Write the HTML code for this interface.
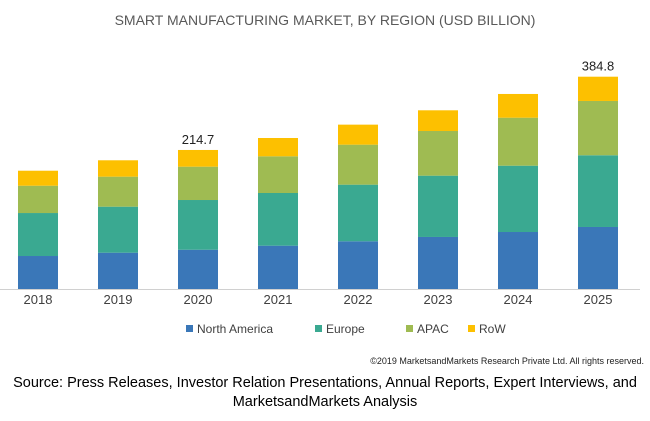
<!DOCTYPE html>
<html><head><meta charset="utf-8"><style>
body{margin:0;width:650px;height:421px;background:#fff;font-family:"Liberation Sans",sans-serif;overflow:hidden;position:relative}
.t{position:absolute;white-space:nowrap}
</style></head><body>
<div class="t" style="left:0;width:650px;text-align:center;top:12px;font-size:14px;color:#595959">SMART MANUFACTURING MARKET, BY REGION (USD BILLION)</div>
<svg id="chart" width="650" height="345" style="position:absolute;left:0;top:0"></svg>
<div class="t" style="right:6px;top:356px;font-size:9px;color:#222">©2019 MarketsandMarkets Research Private Ltd. All rights reserved.</div>
<div class="t" style="left:-10px;width:670px;text-align:center;top:374px;font-size:14.5px;line-height:19px;color:#000">Source: Press Releases, Investor Relation Presentations, Annual Reports, Expert Interviews, and<br>MarketsandMarkets Analysis</div>
<script>
const years=["2018","2019","2020","2021","2022","2023","2024","2025"];
const northAmerica=[59.8,65.8,71.2,78.5,86.5,94.3,103.3,112.4];
const europe=[77.9,83.4,90.1,95.5,102.6,111.1,120.2,130.0];
const apac=[49.5,54.4,60.4,66.5,72.5,81.0,87.0,98.4];
const row=[27.2,29.7,30.3,33.2,36.3,37.5,43.0,44.0];
const totalLabels=["","","214.7","","","","","384.8"];
const seriesNames=["North America","Europe","APAC","RoW"];
const colors=["#3a77b8","#3aa991","#9fbb52","#fdc000"];
const series=[northAmerica,europe,apac,row];
const svg=document.getElementById('chart');const NS="http://www.w3.org/2000/svg";
const base=289,k=212.3/384.8;
const y=v=>base-v*k;
const x=i=>18+i*80;
function mk(t,a){const e=document.createElementNS(NS,t);for(const n in a)e.setAttribute(n,a[n]);svg.appendChild(e);return e;}
years.forEach((yr,i)=>{let cum=0;
series.forEach((s,j)=>{const r=mk('rect',{x:x(i),y:y(cum+s[i]),width:40,height:s[i]*k,fill:colors[j]});

cum+=s[i];});
const t=mk('text',{x:x(i)+20,y:304,'text-anchor':'middle','font-size':13,fill:'#404040','font-family':'Liberation Sans, sans-serif'});t.textContent=yr;


if(totalLabels[i]){const l=mk('text',{x:x(i)+20,y:y(cum)-6,'text-anchor':'middle','font-size':13,fill:'#222','font-family':'Liberation Sans, sans-serif'});l.textContent=totalLabels[i];

}
});
const ax=mk('line',{x1:0,x2:640,y1:289.5,y2:289.5,stroke:'#d0d0d0','stroke-width':1});


const lx=[186,315,406,468];
seriesNames.forEach((n,j)=>{const r=mk('rect',{x:lx[j],y:325,width:7,height:7,fill:colors[j]});


const t=mk('text',{x:lx[j]+11,y:333,'font-size':12,fill:'#404040','font-family':'Liberation Sans, sans-serif'});t.textContent=n;

});
</script>
</body></html>
